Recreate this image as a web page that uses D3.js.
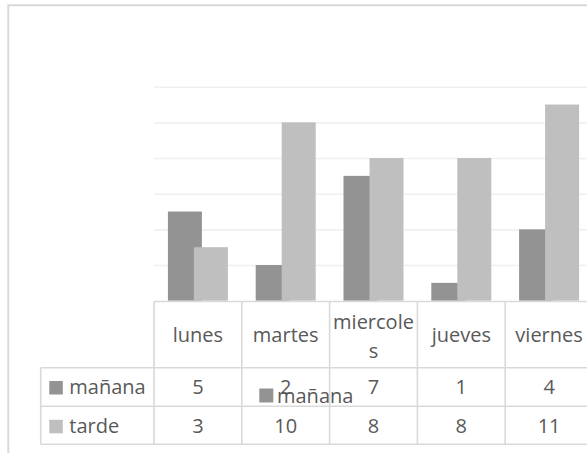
<!DOCTYPE html>
<html>
<head>
<meta charset="utf-8">
<script src="https://cdn.jsdelivr.net/npm/d3@7"></script>
<style>
  html, body { margin: 0; padding: 0; background: #fff; }
  svg { display: block; }
  text { font-family: "Open Sans", sans-serif; font-size: 20px; fill: #595959; }
</style>
</head>
<body>
<svg id="chart" width="587" height="453"></svg>
<script>
// Weekly counts, morning vs afternoon
const categories = ["lunes", "martes", "miercoles", "jueves", "viernes"];
const seriesNames = ["mañana", "tarde"];
const manana = [5, 2, 7, 1, 4];
const tarde = [3, 10, 8, 8, 11];
const yTicks = [0, 2, 4, 6, 8, 10, 12];
const seriesColors = ["#939393", "#bfbfbf"];

const series = [manana, tarde];

const svg = d3.select("#chart");
const W = 587, H = 453;

// chart frame
svg.append("path")
  .attr("d", `M8.3,${H + 2} L8.3,5.3 L${W + 2},5.3`)
  .attr("fill", "none").attr("stroke", "#d9d9d9").attr("stroke-width", 2);

const plotLeft = 154, plotRight = 593;
const plotTop = 86.7, plotBottom = 300.7;

const x = d3.scaleBand().domain(categories).range([plotLeft, plotRight]).padding(0);
const y = d3.scaleLinear().domain([0, 12]).range([plotBottom, plotTop]);

// horizontal gridlines
const grid = svg.append("g")
  .attr("transform", `translate(${plotLeft},0)`)
  .call(d3.axisLeft(y).tickValues(yTicks.slice(1)).tickSize(-(plotRight - plotLeft)).tickFormat(""));
grid.select(".domain").remove();
grid.selectAll("line").attr("stroke", "#f0f0f0").attr("stroke-width", 1.6);

// bars: overlapping pair centred in each band
const barW = 34, barStep = 26;
const offset = d3.scaleLinear().domain([0, 1]).range([-(barStep + barW) / 2, -(barStep + barW) / 2 + barStep]);

series.forEach((vals, si) => {
  svg.append("g").selectAll("rect")
    .data(vals)
    .join("rect")
    .attr("x", (d, i) => x(categories[i]) + x.bandwidth() / 2 + offset(si))
    .attr("y", d => y(d))
    .attr("width", barW)
    .attr("height", d => y(0) - y(d))
    .attr("fill", seriesColors[si]);
});

// data table
const headerTop = 301.5, row1Top = 367.7, row2Top = 406.2, tableBottom = 444.3;
const legendLeft = 40.7;
const lineColor = "#d9d9d9";
const tbl = svg.append("g").attr("stroke", lineColor).attr("stroke-width", 1.6);

// axis line / header top
tbl.append("line").attr("x1", plotLeft).attr("x2", W + 2).attr("y1", headerTop).attr("y2", headerTop);
[row1Top, row2Top, tableBottom].forEach(yy =>
  tbl.append("line").attr("x1", legendLeft).attr("x2", W + 2).attr("y1", yy).attr("y2", yy));
tbl.append("line").attr("x1", legendLeft).attr("x2", legendLeft).attr("y1", row1Top).attr("y2", tableBottom);
categories.forEach(c => {
  tbl.append("line").attr("x1", x(c)).attr("x2", x(c)).attr("y1", headerTop).attr("y2", tableBottom);
});

// category headers
const hdr = svg.append("g").attr("text-anchor", "middle");
categories.forEach(c => {
  const cx = x(c) + x.bandwidth() / 2;
  if (c === "miercoles") {
    hdr.append("text").attr("x", cx).attr("y", 329).text("miercole");
    hdr.append("text").attr("x", cx).attr("y", 358).text("s");
  } else {
    hdr.append("text").attr("x", cx).attr("y", 342.3).text(c);
  }
});

// value rows
const rowBase = [394, 432.8];
series.forEach((vals, si) => {
  svg.append("g").attr("text-anchor", "middle").selectAll("text")
    .data(vals)
    .join("text")
    .attr("x", (d, i) => x(categories[i]) + x.bandwidth() / 2)
    .attr("y", rowBase[si])
    .text(d => d);
  // legend key in row header
  svg.append("rect")
    .attr("x", 49.3).attr("y", rowBase[si] - 13).attr("width", 13.5).attr("height", 13.5)
    .attr("fill", seriesColors[si]);
  svg.append("text").attr("x", 69.3).attr("y", rowBase[si]).text(seriesNames[si]);
});

// chart legend entry
const lg = svg.append("g").attr("transform", "translate(259.3,402.7)");
lg.append("rect").attr("x", 0).attr("y", -14.2).attr("width", 14).attr("height", 14).attr("fill", seriesColors[0]);
lg.append("text").attr("x", 17.7).attr("y", 0).text(seriesNames[0]);
</script>
</body>
</html>
